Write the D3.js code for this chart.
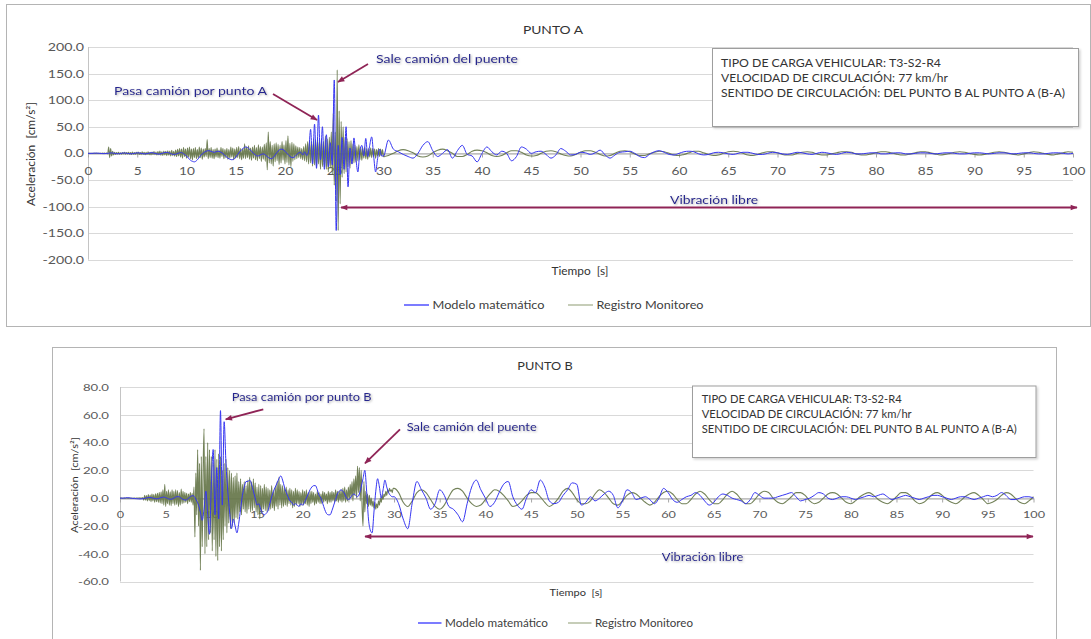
<!DOCTYPE html>
<html>
<head>
<meta charset="utf-8">
<script src="https://cdn.jsdelivr.net/npm/d3@7"></script>
<style>
  body { margin: 0; background: #fff; }
  svg { display: block; }
</style>
</head>
<body>
<svg id="chart" width="1091" height="639"></svg>
<script>
// ---------------------------------------------------------------
// Datos: aceleraciones [cm/s²] en función del tiempo [s]
// Tramo 0–30 s: registro cada 0.1 s, modelo cada 0.2 s
// Tramo 30–100 s (vibración libre): cada 0.5 s
// ---------------------------------------------------------------
const ticksTiempo = [0, 5, 10, 15, 20, 25, 30, 35, 40, 45, 50, 55, 60, 65, 70, 75, 80, 85, 90, 95, 100];
const ticksAcelA = [-200, -150, -100, -50, 0, 50, 100, 150, 200];
const ticksAcelB = [-60, -40, -20, 0, 20, 40, 60, 80];

const series = ["Modelo matemático", "Registro Monitoreo"];
const infoCarga = [
  "TIPO DE CARGA VEHICULAR: T3-S2-R4",
  "VELOCIDAD DE CIRCULACIÓN: 77 km/hr",
  "SENTIDO DE CIRCULACIÓN: DEL PUNTO B AL PUNTO A (B-A)"
];

// ---- PUNTO A ----
const registroA_0a30 = [
  0, 0, 0.3, -0.2, 0.2, -0.3, 0.2, 0, -0.2, 0.3,
  -0.2, 0.3, -0.3, 0.2, -0.2, 0.4, -0.3, 0.5, -0.4, 0.6,
  -0.8, 12, -8, 9, -5, 4, -3, 2, -2, 1.5,
  -1.2, 1.8, -1.5, 1.2, -1.8, 1.5, -1, 2, -1.6, 1.3,
  -1.4, 2.2, -1.8, 1.6, -2, 2.4, -1.7, 1.4, -2.2, 1.9,
  -1.5, 2.5, -2.1, 1.7, -2.4, 2.8, -1.9, 2.2, -2.6, 2,
  -2.2, 3, -2.5, 1.8, -2.8, 2.6, -2.2, 3.2, -2.7, 2.4,
  -3, 3.6, -2.8, 4.2, -3.5, 3.1, -4, 4.5, -3.2, 3.8,
  -4.2, 5, -3.6, 4.4, -5, 5.6, -4.4, 3.9, -5.2, 6,
  -6, 7.5, -5, 9, -7, 8, -9, 11, -6, 8,
  -9, 10, -7, 12, -10, 8, -12, 9, -8, 11,
  -10, 7, -9, 12, -8, 10, -11, 8, -7, 9,
  -6, 26, -10, 9, -8, 11, -9, 7, -10, 8,
  -7, 10, -8, 6, -9, 11, -6, 9, -10, 7,
  -8, 9, -11, 7, -9, 12, -7, 10, -12, 8,
  -9, 11, -8, 13, -10, 9, -12, 8, -9, 18,
  -10, 12, -8, 14, -11, 10, -13, 12, -9, 15,
  -12, 11, -14, 16, -10, 13, -15, 12, -11, 17,
  -15, 20, -31, 40, -18, 22, -20, 15, -24, 18,
  -16, 20, -14, 17, -21, 15, -18, 22, -13, 16,
  -20, 24, -17, 33, -22, 19, -25, 21, -15, 18,
  -12, 14, -10, 12, -8, 11, -10, 9, -12, 13,
  -14, 18, -16, 22, -20, 25, -18, 21, -24, 28,
  -22, 26, -28, 30, -20, 24, -30, 28, -25, 22,
  -26, 32, -30, 27, -35, 30, -28, 40, -40, 75,
  -60, 40, -90, 157, -145, 80, -95, 60, -45, 50,
  -38, 30, -35, 28, -25, 22, -28, 24, -20, 18,
  -18, 15, -16, 13, -14, 16, -12, 11, -13, 10,
  -9, 12, -10, 8, -11, 9, -7, 10, -8, 9,
  -6, 8, -9, 7, -5, 9, -6, 8, -4, 7
];
const registroA_30a100 = [
  -6, -4, 0, 5, 7, 5, 1, -5, -7, -5,
  1, 6, 8, 5, 0, -6, -6, -2, 4, 6,
  5, 1, -4, -6, -4, 1, 5, 5, 2, -3,
  -5, -4, 0, 4, 5, 3, -1, -4, -5, -2,
  2, 5, 5, 2, -2, -5, -4, 0, 4, 5,
  3, -1, -4, -4, -1, 2, 4, 3, 0, -3,
  -4, -2, 1, 4, 4, 1, -2, -4, -3, 0,
  3, 4, 3, 0, -3, -4, -2, 1, 3, 3,
  1, -2, -3, -3, 0, 2, 3, 2, -1, -3,
  -3, -1, 1, 3, 3, 2, -1, -3, -3, -1,
  1, 3, 3, 1, -1, -3, -3, -1, 1, 3,
  3, 1, -1, -3, -2, 0, 2, 3, 2, 0,
  -2, -3, -2, 0, 2, 3, 2, 0, -2, -3,
  -1, 1, 3, 2, 0, -2, -3, -1, 1, 3,
  2
];
const modeloA_0a30 = [
  0, 0, 0, 0.3, 0.5, 0.3, 0, -0.3, -0.5, -0.3,
  0, 0.5, 0.8, 0.4, -0.3, -0.8, -0.5, 0.2, 0.7, 0.5,
  0, -0.6, -0.9, -0.4, 0.3, 0.9, 0.7, 0, -0.7, -1,
  -0.5, 0.4, 1.2, 1, 0, -1, -1.5, -0.8, 0.5, 1.5,
  1.8, 1, -0.5, -1.8, -2, -1, 0.5, 1.5, 0.5, -2,
  -5, -9, -13, -15, -16, -14, -10, -5, -1, 2,
  4, 5, 4.5, 3, 2, 3, 4, 3, 1, -2,
  -6, -9, -11, -12, -11, -7, -2, 3, 7, 10,
  12, 11, 8, 4, 0, -3, -5, -4, -2, -1,
  -3, -6, -9, -10, -8, -3, 2, 6, 8, 7,
  4, 0, -4, -7, -8, -6, -2, 1, 2, -3,
  3, -4, 4, 45, -20, 55, -28, 72, -12, 50,
  -30, 35, -25, 20, -22, 138, -145, 15, -40, 30,
  -30, 50, -63, 10, -20, 29, -10, -35, 5, 15,
  -5, 28, -6, 15, 31, -5, -35, -10, 8, -5
];
const modeloA_30a100 = [
  -5, 25, 8, 3, -2, -6, -9, 0, 15, 22,
  5, -6, 0, 7, -9, 5, 15, -2, -5, -16,
  0, 12, 3, -3, 4, 0, -14, -6, 12, 8,
  0, 3, 4, -2, -9, -3, 9, 4, -3, -2,
  2, 1, -2, 1, 6, -3, -9, -3, 2, 3,
  4, 0, -6, -8, -2, 3, 5, 2, -2, -3,
  0, 3, 4, 3, -1, -3, -2, 1, 2, 1,
  -1, -2, 0, 2, 2, 0, -2, -2, 0, 2,
  1, -1, -2, 0, 2, 1, -1, -2, 0, 2,
  1, -1, -2, 0, 2, 1, -1, -1, 0, 1,
  1, -1, -1, 0, 1, 1, -1, -1, 0, 1,
  1, 0, -1, 0, 1, 1, 0, -1, -1, 0,
  1, 1, 0, -1, 0, 1, 1, 0, -1, 0,
  1, 1, 0, -1, -1, 0, 1, 1, 0, -1,
  0
];

// ---- PUNTO B ----
const registroB_0a30 = [
  0, 0, 0.1, -0.1, 0.1, 0, -0.1, 0.1, 0, 0,
  0, 0.1, -0.1, 0.1, -0.1, 0, 0.1, -0.1, 0, 0.1,
  -0.1, 0.2, -0.3, 0.3, -0.2, 0.5, -1.5, 2, -1.5, 1.8,
  -2, 2.5, -1.8, 2.2, -2.5, 3, -2, 2.6, -3, 3.2,
  -2.5, 3.5, -3, 4, -3.5, 4.5, -4, 6, -5, 10,
  -6, 5, -4, 6, -5, 4.5, -5.5, 6, -4, 5,
  -5, 6, -4.5, 5.5, -6, 4, -5, 6.5, -4, 5,
  -3.5, 4, -3, 3.5, -4, 3, -2.5, 4, -3, 3.5,
  -5, 8, -28, 18, -12, 35, -20, 25, -52, 30,
  -35, 20, 50, -40, 30, -35, 40, -30, 35, -25,
  30, -38, 25, -30, 35, -42, 28, -45, 32, -35,
  30, -38, 20, -30, 25, -20, 28, -25, 22, -18,
  20, -22, 18, -20, 15, -18, 16, -14, 18, -15,
  12, -10, 14, -12, 10, -8, 12, -10, 9, -11,
  13, -8, 15, -10, 12, -9, 14, -7, 11, -10,
  8, -12, 10, -15, 9, -11, 7, -8, 10, -9,
  8, -10, 7, -9, 6, -8, 9, -7, 5, -9,
  8, -6, 12, -8, 15, -5, 10, -7, 9, -6,
  7, -5, 8, -6, 6, -4, 7, -5, 6, -7,
  5, -6, 7, -5, 6, -4, 5, -6, 4, -5,
  6, -5, 5, -4, 6, -5, 4, -6, 5, -4,
  5, -3, 4, -5, 3, -4, 5, -3, 4, -4,
  3, -4, 5, -3, 4, -2, 3, -4, 5, -3,
  4, -3, 5, -2, 4, -3, 6, -2, 5, -3,
  5, -2, 6, -3, 7, -2, 8, -3, 6, -2,
  8, -1, 10, 0, 12, -2, 14, 2, 16, 0,
  23, 4, 22, -2, 20, -6, -20, 12, -10, 5,
  -4, 3, -6, 2, -5, 0, -6, -2, -7, -3,
  -8, -4, -7, -2, -5, 0, -3, 2, -1, 3,
  1, 5, 2, 6, 4, 7, 5, 6, 4, 7
];
const registroB_30a100 = [
  7, 4, -3, -6, -2, 4, 6, 4, -1, -6,
  -8, -5, 1, 6, 7, 5, 0, -4, -6, -5,
  -1, 3, 6, 5, 2, -2, -6, -5, -2, 2,
  4, 4, 1, -3, -6, -4, 0, 5, 7, 4,
  -1, -4, -4, -2, 3, 6, 4, 0, -4, -5,
  -2, 2, 4, 3, 0, -3, -5, -3, 1, 4,
  5, 3, -1, -4, -4, -1, 3, 5, 3, -1,
  -4, -4, -1, 3, 5, 3, -1, -4, -4, -1,
  3, 5, 4, 0, -3, -4, -2, 1, 4, 4,
  2, -2, -4, -3, 0, 3, 4, 3, 0, -3,
  -4, -2, 1, 3, 4, 2, -1, -3, -4, -2,
  1, 4, 4, 2, -2, -4, -3, 0, 3, 4,
  2, -1, -3, -4, -2, 1, 3, 4, 2, -1,
  -4, -3, -1, 2, 4, 3, 0, -3, -4, -2,
  1
];
const modeloB_0a30 = [
  0, 0, 0, 0.2, 0.3, 0.2, 0, -0.2, -0.3, -0.4,
  -0.5, -0.6, -0.5, -0.3, 0, 0.3, 0.5, 0.4, 0, -0.3,
  -0.5, -0.3, 0.2, 0.6, 0.8, 0.4, -0.2, -0.7, -0.8, -0.3,
  0.4, 1, 1.1, 0.5, -0.5, -1.2, -1.4, -0.6, 0.5, 1.5,
  1.8, 0.5, -2, -5, -10, -16, -8, 5, -12, -26,
  10, 35, -12, 22, -15, 63, -5, 55, 25, 5,
  -10, -22, -15, -20, -25, -18, -8, 2, 8, 12,
  12, 13, 10, 5, 0, -5, -4, -8, -11, -12,
  -11, -9, -4, 1, 5, 8, 11, 14, 16, 13,
  8, 4, 1, -2, -3, -5, -4, -5, -6, -4,
  -5, -3, 0, 3, 6, 8, 9, 9, 6, 2,
  0, -4, -8, -11, -12, -12, -9, -5, -1, 3,
  5, 6, 5, 3, 0, -1, 0, 2, 3, 2,
  1, 3, 8, 14, 20, 5, -15, -23, -25, -10,
  5, 14, 8, 0, 6, 13, 8, 4, 2, 1
];
const modeloB_30a100 = [
  1, -4, -15, -22, -3, 12, 6, 0, -8, -4,
  6, 2, -6, -8, -12, -17, -4, 8, 13, 6,
  0, -6, -3, 4, 10, 12, 1, -5, -8, 0,
  6, 4, 13, 8, -2, -4, -3, 2, 6, 11,
  10, -5, -3, 1, -2, 0, 3, 5, 2, -7,
  -2, 6, 4, -1, 0, 1, -1, -4, 0, 7,
  4, -1, -3, -1, 1, 2, 4, 2, -2, -5,
  -3, 1, 3, 2, 0, -1, -2, -4, -1, 4,
  2, 0, 0, 0, 1, 2, 3, 4, 1, -2,
  -1, 0, 2, 4, 3, 0, -1, 0, 1, 1,
  0, -1, 0, 1, 2, 1, 2, 3, 1, -1,
  0, 1, 2, 1, 0, -1, 0, 1, 2, 2,
  1, 0, -1, 0, 1, 1, 0, -1, 0, 1,
  2, 1, 2, 4, 2, -1, -1, 0, 1, 1,
  0
];

// ---------------------------------------------------------------
// Utilidades
// ---------------------------------------------------------------
const FUENTE = "Lato, 'Open Sans', 'DejaVu Sans', sans-serif";
const AZUL = "#3636f2";
const OLIVA = "#66764a";
const FLECHA = "#8f2456";
const TEXTO_NOTA = "#26268f";

// Convierte un tramo muestreado (inicio, paso, valores) en puntos {t, a}
function tramo(t0, paso, valores) {
  return valores.map((a, i) => ({ t: +(t0 + i * paso).toFixed(2), a }));
}

// Ensancha el texto (la fuente del gráfico original es más ancha)
function ajustar(sel, ancho, k = 1.14) {
  sel.each(function () {
    const natural = this.getComputedTextLength();
    const objetivo = ancho || natural * k;
    this.setAttribute("textLength", objetivo);
    this.setAttribute("lengthAdjust", "spacingAndGlyphs");
  });
  return sel;
}

function rotulo(g, o) {
  const t = g.append("text")
    .attr("x", o.x).attr("y", o.y)
    .attr("font-family", FUENTE)
    .attr("font-size", o.fs)
    .attr("font-weight", o.peso || 400)
    .attr("fill", o.color || "#404040")
    .attr("text-anchor", o.anchor || "start")
    .style("white-space", "pre")
    .text(o.txt);
  if (o.rot) t.attr("transform", `rotate(${o.rot},${o.x},${o.y})`);
  if (o.filtro) t.attr("filter", o.filtro);
  ajustar(t, o.w, o.k);
  return t;
}

const svg = d3.select("#chart");
const defs = svg.append("defs");

defs.append("marker")
  .attr("id", "punta")
  .attr("viewBox", "0 0 10 10")
  .attr("refX", 9).attr("refY", 5)
  .attr("markerWidth", 8).attr("markerHeight", 7)
  .attr("markerUnits", "userSpaceOnUse")
  .attr("orient", "auto-start-reverse")
  .append("path").attr("d", "M0,1 L10,5 L0,9 Z").attr("fill", FLECHA);

const sombra = defs.append("filter").attr("id", "sombra")
  .attr("x", "-10%").attr("y", "-40%").attr("width", "120%").attr("height", "180%");
sombra.append("feDropShadow")
  .attr("dx", 1).attr("dy", 1).attr("stdDeviation", 0.8)
  .attr("flood-color", "#808080").attr("flood-opacity", 0.6);

const sombraCaja = defs.append("filter").attr("id", "sombraCaja")
  .attr("x", "-5%").attr("y", "-5%").attr("width", "110%").attr("height", "115%");
sombraCaja.append("feDropShadow")
  .attr("dx", 1.5).attr("dy", 1.5).attr("stdDeviation", 1)
  .attr("flood-color", "#000").attr("flood-opacity", 0.18);

// ---------------------------------------------------------------
// Dibujo de un panel
// ---------------------------------------------------------------
function panel(cfg) {
  const g = svg.append("g");

  // marco del gráfico
  g.append("rect")
    .attr("x", cfg.marco.x + 0.5).attr("y", cfg.marco.y + 0.5)
    .attr("width", cfg.marco.w).attr("height", cfg.marco.h)
    .attr("fill", "#fff").attr("stroke", "#b4b4b4").attr("stroke-width", 1);

  const x = d3.scaleLinear().domain([0, 100]).range([cfg.x0, cfg.x1]);
  const y = d3.scaleLinear().domain(cfg.dominio).range([cfg.yBot, cfg.yTop]);

  // líneas de división horizontales
  g.append("g").selectAll("line").data(cfg.ticksY).join("line")
    .attr("x1", cfg.x0).attr("x2", cfg.x1)
    .attr("y1", d => Math.round(y(d)) + 0.5).attr("y2", d => Math.round(y(d)) + 0.5)
    .attr("stroke", "#d9d9d9").attr("stroke-width", 1);

  // eje vertical
  g.append("line")
    .attr("x1", Math.round(cfg.x0) + 0.5).attr("x2", Math.round(cfg.x0) + 0.5)
    .attr("y1", cfg.yTop).attr("y2", cfg.yBot)
    .attr("stroke", "#c4c4c4");

  const ejeY = g.append("g")
    .attr("transform", `translate(${cfg.x0},0)`)
    .call(d3.axisLeft(y).tickValues(cfg.ticksY).tickFormat(d => d.toFixed(1))
      .tickSize(0).tickPadding(cfg.padY));
  ejeY.select(".domain").remove();
  ejeY.attr("font-family", FUENTE).attr("font-size", cfg.fsTick);
  ejeY.selectAll("text").attr("fill", "#595959");
  ajustar(ejeY.selectAll("text"), null, 1.27);

  // eje horizontal en aceleración cero
  const ejeX = g.append("g")
    .attr("transform", `translate(0,${Math.round(y(0)) + 0.5})`)
    .call(d3.axisBottom(x).tickValues(ticksTiempo).tickFormat(d3.format("d"))
      .tickSize(4).tickSizeOuter(0));
  ejeX.select(".domain").attr("stroke", "#a6a6a6");
  ejeX.selectAll(".tick line").attr("stroke", "#a6a6a6");
  ejeX.attr("font-family", FUENTE).attr("font-size", cfg.fsTick);
  ejeX.selectAll("text").attr("fill", "#595959").attr("y", cfg.dyX).attr("dy", 0);
  ajustar(ejeX.selectAll("text"), null, 1.22);

  // series
  const linea = d3.line().x(d => x(d.t)).y(d => y(d.a)).curve(d3.curveMonotoneX);
  const registro = tramo(0, 0.1, cfg.registro0).concat(tramo(30, 0.5, cfg.registro1));
  const modelo = tramo(0, 0.2, cfg.modelo0).concat(tramo(30, 0.5, cfg.modelo1));

  g.append("path").datum(registro)
    .attr("d", linea).attr("fill", "none")
    .attr("stroke", OLIVA).attr("stroke-width", 1.1).attr("stroke-opacity", 0.92)
    .attr("stroke-linejoin", "round");
  g.append("path").datum(modelo)
    .attr("d", linea).attr("fill", "none")
    .attr("stroke", AZUL).attr("stroke-width", 1)
    .attr("stroke-linejoin", "round");

  // títulos
  rotulo(g, { x: cfg.titulo.x, y: cfg.titulo.y, txt: cfg.titulo.txt, fs: cfg.fsTitulo, anchor: "middle", color: "#333", k: 1.2 });
  rotulo(g, { x: cfg.tituloX.x, y: cfg.tituloX.y, txt: "Tiempo  [s]", fs: cfg.fsEje, anchor: "middle", w: cfg.tituloX.w, color: "#333" });
  rotulo(g, { x: cfg.tituloY.x, y: cfg.tituloY.y, txt: "Aceleración  [cm/s²]", fs: cfg.fsEje, anchor: "middle", rot: -90, w: cfg.tituloY.w, color: "#333" });

  // leyenda
  const ley = cfg.leyenda;
  ["#5b5bff", "#b8c0a6"].forEach((c, i) => {
    g.append("line")
      .attr("x1", ley.x[i]).attr("x2", ley.x[i] + ley.largo)
      .attr("y1", ley.y).attr("y2", ley.y)
      .attr("stroke", c).attr("stroke-width", 1.6);
    rotulo(g, { x: ley.x[i] + ley.largo + 3.5, y: ley.y + cfg.fsLeyenda * 0.36, txt: series[i], fs: cfg.fsLeyenda, w: ley.w[i], color: "#404040" });
  });

  // cuadro de información
  const c = cfg.caja;
  g.append("rect")
    .attr("x", c.x + 0.5).attr("y", c.y + 0.5).attr("width", c.w).attr("height", c.h)
    .attr("fill", "#fff").attr("stroke", "#9e9e9e").attr("filter", "url(#sombraCaja)");
  infoCarga.forEach((txt, i) => {
    rotulo(g, { x: c.tx, y: c.ty[i], txt, fs: cfg.fsCaja, w: c.tw[i], color: "#333" });
  });

  // anotaciones
  cfg.notas.forEach(n => {
    rotulo(g, { x: n.x, y: n.y, txt: n.txt, fs: cfg.fsNota, w: n.w, color: TEXTO_NOTA, filtro: "url(#sombra)", anchor: n.anchor || "start" });
  });
  cfg.flechas.forEach(f => {
    const l = g.append("line")
      .attr("x1", f[0]).attr("y1", f[1]).attr("x2", f[2]).attr("y2", f[3])
      .attr("stroke", FLECHA).attr("stroke-width", 1.8)
      .attr("marker-end", "url(#punta)");
    if (f[4]) l.attr("marker-start", "url(#punta)");
  });
}

// ---------------------------------------------------------------
// PUNTO A
// ---------------------------------------------------------------
panel({
  marco: { x: 6, y: 4, w: 1084, h: 322 },
  x0: 88, x1: 1073, yTop: 47, yBot: 259.7,
  dominio: [-200, 200], ticksY: ticksAcelA,
  registro0: registroA_0a30, registro1: registroA_30a100,
  modelo0: modeloA_0a30, modelo1: modeloA_30a100,
  fsTick: 11.2, padY: 4, dyX: 21,
  fsTitulo: 11.5, fsEje: 11, fsLeyenda: 11.5, fsCaja: 11.5, fsNota: 12,
  titulo: { x: 553, y: 34, txt: "PUNTO A" },
  tituloX: { x: 580, y: 275, w: 57 },
  tituloY: { x: 35, y: 154, w: 104 },
  leyenda: { y: 305, x: [404, 568], largo: 25, w: [112, 107] },
  caja: { x: 712, y: 48, w: 366, h: 78, tx: 721, ty: [66.5, 81.5, 96.7], tw: [220, 227, 344] },
  notas: [
    { x: 114, y: 95, txt: "Pasa camión por punto A", w: 153 },
    { x: 376, y: 63, txt: "Sale camión del puente", w: 142 },
    { x: 714, y: 204, txt: "Vibración libre", w: 88, anchor: "middle" }
  ],
  flechas: [
    [273, 94, 317, 120],
    [368, 64, 338, 82],
    [1077, 207.5, 341, 207.5, true]
  ]
});

// ---------------------------------------------------------------
// PUNTO B
// ---------------------------------------------------------------
panel({
  marco: { x: 52, y: 347, w: 1004, h: 310 },
  x0: 120, x1: 1033.5, yTop: 387, yBot: 581.5,
  dominio: [-60, 80], ticksY: ticksAcelB,
  registro0: registroB_0a30, registro1: registroB_30a100,
  modelo0: modeloB_0a30, modelo1: modeloB_30a100,
  fsTick: 10.4, padY: 11, dyX: 19.5,
  fsTitulo: 10.6, fsEje: 10.2, fsLeyenda: 10.6, fsCaja: 10.6, fsNota: 11,
  titulo: { x: 545, y: 370, txt: "PUNTO B" },
  tituloX: { x: 576, y: 596, w: 53 },
  tituloY: { x: 78, y: 485, w: 96 },
  leyenda: { y: 623, x: [418, 568], largo: 23.5, w: [103, 98] },
  caja: { x: 692, y: 385.5, w: 343.5, h: 71.5, tx: 701.7, ty: [403.3, 418.3, 433.3], tw: [200, 210, 315] },
  notas: [
    { x: 231.7, y: 401.3, txt: "Pasa camión por punto B", w: 140 },
    { x: 406.7, y: 430.7, txt: "Sale camión del puente", w: 130 },
    { x: 702.5, y: 560.7, txt: "Vibración libre", w: 81.6, anchor: "middle" }
  ],
  flechas: [
    [263.3, 409.3, 225.7, 419.3],
    [400, 429.3, 365, 463.3],
    [1033, 536.5, 365, 536.5, true]
  ]
});
</script>
</body>
</html>
